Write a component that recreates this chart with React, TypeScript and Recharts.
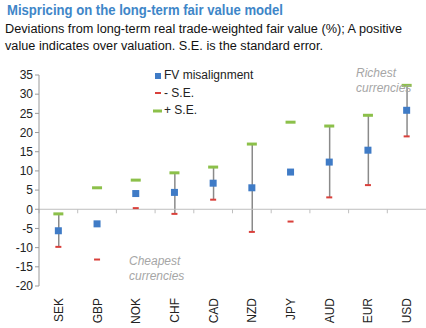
import React from 'react';
import { ComposedChart, Bar, Line, XAxis, YAxis, ReferenceLine } from 'recharts';

const currencies = ['SEK', 'GBP', 'NOK', 'CHF', 'CAD', 'NZD', 'JPY', 'AUD', 'EUR', 'USD'];
const fvMisalignment = [-5.6, -3.8, 4.1, 4.4, 6.8, 5.6, 9.7, 12.3, 15.4, 25.8];
const minusSE = [-9.8, -13.1, 0.3, -1.2, 2.5, -5.9, -3.2, 3.1, 6.3, 19.0];
const plusSE = [-1.2, 5.6, 7.6, 9.5, 11.0, 17.0, 22.7, 21.7, 24.5, 32.3];
// which currencies have the grey whisker joining the two S.E. marks
const showWhisker = [true, false, false, true, true, true, false, true, true, true];
const yTicks = [-20, -15, -10, -5, 0, 5, 10, 15, 20, 25, 30, 35];

const data = currencies.map((name, i) => ({
  name,
  fv: fvMisalignment[i],
  minus: minusSE[i],
  plus: plusSE[i],
  whisker: showWhisker[i] ? [minusSE[i], plusSE[i]] : null,
}));

const BLUE = '#3f7bc6';
const RED = '#d9403b';
const GREEN = '#8cc04a';
const FONT = '"Liberation Sans", Arial, sans-serif';

const SquareDot = (props: any) => {
  const { cx, cy } = props;
  if (cx == null || cy == null) return null;
  return <rect x={cx - 3.5} y={cy - 3.5} width={7} height={7} fill={BLUE} />;
};

const MinusDot = (props: any) => {
  const { cx, cy } = props;
  if (cx == null || cy == null) return null;
  return <rect x={cx - 3} y={cy - 1} width={6} height={2} fill={RED} />;
};

const PlusDot = (props: any) => {
  const { cx, cy } = props;
  if (cx == null || cy == null) return null;
  return <rect x={cx - 5} y={cy - 1.5} width={10} height={3} fill={GREEN} />;
};

const RotatedTick = (props: any) => {
  const { x, y, payload } = props;
  return (
    <text
      x={x}
      y={y}
      transform={`rotate(-90, ${x}, ${y})`}
      textAnchor="end"
      dy={4.5}
      fontSize={12}
      fontFamily={FONT}
      fill="#222"
    >
      {payload.value}
    </text>
  );
};

// zero line with small tick marks between categories
const ZeroAxis = (props: any) => {
  const { x1, x2, y1 } = props;
  if (x1 == null) return null;
  const step = (x2 - x1) / currencies.length;
  return (
    <g>
      <line x1={x1} x2={x2} y1={y1} y2={y1} stroke="#bfbfbf" strokeWidth={1} />
      {currencies.map((_, i) => (
        <line key={i} x1={x1 + step * i} x2={x1 + step * i} y1={y1} y2={y1 + 4} stroke="#bfbfbf" />
      ))}
    </g>
  );
};

const legendItems = [
  { label: 'FV misalignment', kind: 'square' },
  { label: '- S.E.', kind: 'minus' },
  { label: '+ S.E.', kind: 'plus' },
];

const LegendBox = () => (
  <div
    style={{
      position: 'absolute',
      left: 153,
      top: 67,
      fontFamily: FONT,
      fontSize: 12,
      color: '#222',
      lineHeight: '17.5px',
    }}
  >
    {legendItems.map((it) => (
      <div key={it.label} style={{ display: 'flex', alignItems: 'center', height: 17.5 }}>
        <svg width={10} height={10} style={{ marginRight: 1 }}>
          {it.kind === 'square' && <rect x={2} y={2} width={6} height={6} fill={BLUE} />}
          {it.kind === 'minus' && <rect x={2} y={4} width={6} height={2} fill={RED} />}
          {it.kind === 'plus' && <rect x={0} y={3.5} width={9} height={3} fill={GREEN} />}
        </svg>
        <span>{it.label}</span>
      </div>
    ))}
  </div>
);

export default function App() {
  return (
    <div style={{ position: 'absolute', left: 0, top: 0, width: 426, height: 328, background: '#fff', overflow: 'hidden' }}>
      <ComposedChart width={426} height={328} data={data} margin={{ top: 75, right: 0, left: 0, bottom: 0 }}>
        <XAxis
          dataKey="name"
          axisLine={false}
          tickLine={false}
          height={42}
          interval={0}
          tick={<RotatedTick />}
          tickMargin={6}
        />
        <YAxis
          domain={[-20, 35]}
          ticks={yTicks}
          interval={0}
          width={39}
          axisLine={{ stroke: '#999' }}
          tickLine={{ stroke: '#999' }}
          tickSize={4}
          tick={{ fontSize: 12, fontFamily: FONT, fill: '#222' }}
        />
        <ReferenceLine y={0} shape={<ZeroAxis />} />
        <Bar dataKey="whisker" barSize={1.5} fill="#8a8a8a" isAnimationActive={false} />
        <Line dataKey="minus" stroke="none" dot={<MinusDot />} activeDot={false} isAnimationActive={false} />
        <Line dataKey="plus" stroke="none" dot={<PlusDot />} activeDot={false} isAnimationActive={false} />
        <Line dataKey="fv" stroke="none" dot={<SquareDot />} activeDot={false} isAnimationActive={false} />
      </ComposedChart>
      <LegendBox />
      <svg
        width={426}
        height={328}
        style={{ position: 'absolute', left: 0, top: 0, pointerEvents: 'none' }}
        fontFamily={FONT}
      >
        <text x={7} y={15} fontSize={15} fontWeight="bold" fill="#3e86c8" textLength={276} lengthAdjust="spacingAndGlyphs">
          Mispricing on the long-term fair value model
        </text>
        <text x={5} y={33} fontSize={12.5} fill="#111" textLength={397} lengthAdjust="spacingAndGlyphs">
          Deviations from long-term real trade-weighted fair value (%); A positive
        </text>
        <text x={5} y={50} fontSize={12.5} fill="#111" textLength={318} lengthAdjust="spacingAndGlyphs">
          value indicates over valuation. S.E. is the standard error.
        </text>
        <g fontSize={12} fontStyle="italic" fill="#a6a6a6">
          <text x={356} y={77}>Richest</text>
          <text x={356} y={92}>currencies</text>
          <text x={129} y={265}>Cheapest</text>
          <text x={129} y={280}>currencies</text>
        </g>
      </svg>
    </div>
  );
}
